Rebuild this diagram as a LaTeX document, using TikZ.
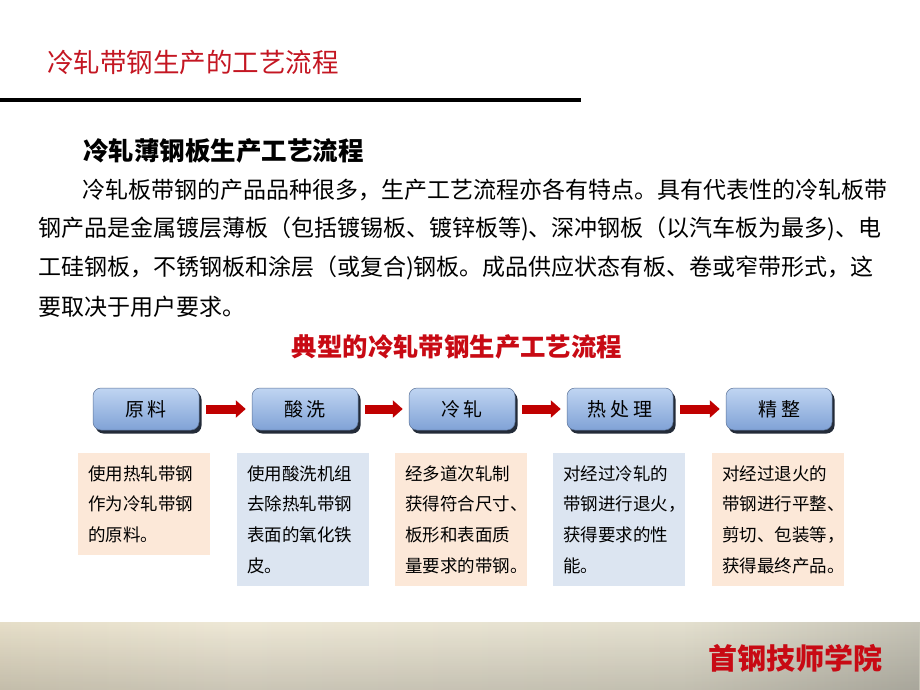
\documentclass[tikz,border=0pt]{standalone}
\usepackage{fontspec}
\setmainfont{Noto Sans CJK SC}
\usetikzlibrary{arrows.meta,shadows,fadings}
\definecolor{titlered}{RGB}{196,22,34}
\definecolor{subred}{RGB}{200,10,20}
\definecolor{arrowred}{RGB}{192,0,0}
\definecolor{peach}{RGB}{252,232,216}
\definecolor{paleblue}{RGB}{220,229,241}
\definecolor{boxtop}{RGB}{192,213,242}
\definecolor{boxbot}{RGB}{128,162,214}
\definecolor{boxshadow}{RGB}{24,32,46}
\definecolor{bandA}{RGB}{214,203,174}
\definecolor{bandB}{RGB}{238,232,214}
\definecolor{bandC}{RGB}{228,224,207}
\definecolor{bandD}{RGB}{138,138,132}
\pgfdeclarehorizontalshading{band}{100bp}{color(0bp)=(bandA); color(38bp)=(bandB); color(62bp)=(bandC); color(100bp)=(bandD)}
\newcommand{\gapx}{\hspace{4pt}}
\newcommand{\mytop}{\rule{0pt}{22pt}}
\newcommand{\mybot}{\rule[-8.7pt]{0pt}{8.7pt}}
\begin{document}
\begin{tikzpicture}[x=1pt,y=-1pt,
  plain/.style={inner sep=0pt, outer sep=0pt},
  paraline/.style={plain, anchor=west, font=\fontsize{23}{23}\selectfont},
  flowbox/.style={rounded corners=8pt, minimum width=106pt, minimum height=42pt,
    top color=boxtop, bottom color=boxbot, draw=boxbot!70!black, line width=0.5pt,
    drop shadow={shadow xshift=2.5pt, shadow yshift=-3.5pt, fill=boxshadow, opacity=0.95},
    font=\fontsize{19}{19}\selectfont, inner sep=0pt},
  descbox/.style={anchor=north west, text width=112pt, inner xsep=10pt, inner ysep=5pt,
    align=left, font=\fontsize{17.5}{30.7}\selectfont},
  flowarrow/.style={draw=arrowred, line width=9pt, -{Triangle[length=10pt,width=17pt]},
    shorten <=7pt, shorten >=6pt}
]
\useasboundingbox (0,0) rectangle (920,690);
\fill[white] (0,0) rectangle (920,690);
% bottom band
\shade[shading=band] (0,622) rectangle (920,690);
\fill[black, opacity=0.15, path fading=north] (0,622) rectangle (920,690);
\node[plain, anchor=east, text=subred, font=\fontsize{29}{29}\selectfont\bfseries] (school) at (882,658) {首钢技师学院};
% title
\node[plain, anchor=west, text=titlered, font=\fontsize{26.5}{26.5}\selectfont] (title) at (47,62) {冷轧带钢生产的工艺流程};
\draw[line width=4pt] (0,100.5) -- (581,100.5);
% heading and paragraph
\node[plain, anchor=west, font=\fontsize{25.5}{25.5}\selectfont\bfseries] (head) at (83,151) {冷轧薄钢板生产工艺流程};
\node[paraline] (p1) at (82,190) {冷轧板带钢的产品品种很多，生产工艺流程亦各有特点。具有代表性的冷轧板带};
\node[paraline] (p2) at (38,229) {钢产品是金属镀层薄板（包括镀锡板、镀锌板等)、深冲钢板（以汽车板为最多)、电};
\node[paraline] (p3) at (38,268) {工硅钢板，不锈钢板和涂层（或复合)钢板。成品供应状态有板、卷或窄带形式，这};
\node[paraline] (p4) at (38,307) {要取决于用户要求。};
% subtitle
\node[plain, text=subred, font=\fontsize{25.4}{25.4}\selectfont\bfseries] (sub) at (457,347) {典型的冷轧带钢生产工艺流程};
% flow boxes
\node[flowbox] (b1) at (146,409) {原\gapx 料};
\node[flowbox] (b2) at (305,409) {酸\gapx 洗};
\node[flowbox] (b3) at (462,409) {冷\gapx 轧};
\node[flowbox] (b4) at (620,409) {热\gapx 处\gapx 理};
\node[flowbox] (b5) at (779,409) {精\gapx 整};
\draw[flowarrow] (b1) -- (b2);
\draw[flowarrow] (b2) -- (b3);
\draw[flowarrow] (b3) -- (b4);
\draw[flowarrow] (b4) -- (b5);
% description boxes
\node[descbox, fill=peach] (d1) at (78,453) {\mytop 使用热轧带钢\\作为冷轧带钢\\的原料。\mybot};
\node[descbox, fill=paleblue] (d2) at (237,453) {\mytop 使用酸洗机组\\去除热轧带钢\\表面的氧化铁\\皮。\mybot};
\node[descbox, fill=peach] (d3) at (395,453) {\mytop 经多道次轧制\\获得符合尺寸、\\板形和表面质\\量要求的带钢。\mybot};
\node[descbox, fill=paleblue] (d4) at (553,453) {\mytop 对经过冷轧的\\带钢进行退火，\\获得要求的性\\能。\mybot};
\node[descbox, fill=peach] (d5) at (712,453) {\mytop 对经过退火的\\带钢进行平整、\\剪切、包装等，\\获得最终产品。\mybot};
\end{tikzpicture}
\end{document}
